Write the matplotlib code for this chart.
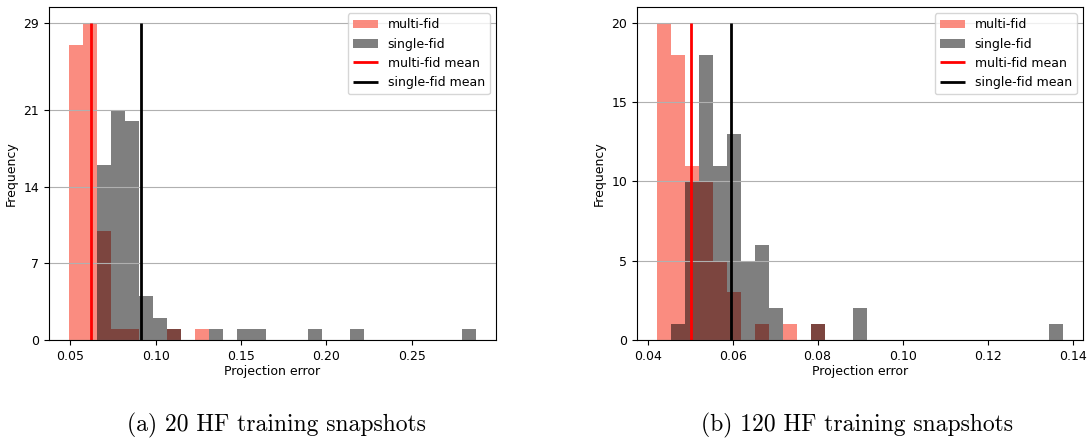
import numpy as np
import matplotlib
matplotlib.use("Agg")
import matplotlib.pyplot as plt

# bin ranges (29 bins between min and max error)
edges_a_lo, edges_a_hi = 0.0494, 0.2875
edges_b_lo, edges_b_hi = 0.04226, 0.1377
n_bins = 29

# counts per bin, 20 HF training snapshots
multi_a = [27, 29, 10, 1, 1, 0, 0, 1, 0, 1, 0, 0, 0, 0, 0,
           0, 0, 0, 0, 0, 0, 0, 0, 0, 0, 0, 0, 0, 0]
single_a = [0, 0, 16, 21, 20, 4, 2, 1, 0, 0, 1, 0, 1, 1, 0,
            0, 0, 1, 0, 0, 1, 0, 0, 0, 0, 0, 0, 0, 1]
mean_multi_a = 0.0623
mean_single_a = 0.0911

# counts per bin, 120 HF training snapshots
multi_b = [20, 18, 11, 10, 5, 3, 0, 1, 0, 1, 0, 1, 0, 0, 0,
           0, 0, 0, 0, 0, 0, 0, 0, 0, 0, 0, 0, 0, 0]
single_b = [0, 1, 10, 18, 11, 13, 5, 6, 2, 0, 0, 1, 0, 0, 2,
            0, 0, 0, 0, 0, 0, 0, 0, 0, 0, 0, 0, 0, 1]
mean_multi_b = 0.0502
mean_single_b = 0.0596

captions = ["(a) 20 HF training snapshots", "(b) 120 HF training snapshots"]

fig = plt.figure(figsize=(10.92, 4.42), dpi=100)
ax_a = fig.add_axes([0.0449, 0.2308, 0.4093, 0.7532])
ax_b = fig.add_axes([0.5833, 0.2308, 0.4085, 0.7532])

panels = [
    (ax_a, edges_a_lo, edges_a_hi, multi_a, single_a, mean_multi_a, mean_single_a),
    (ax_b, edges_b_lo, edges_b_hi, multi_b, single_b, mean_multi_b, mean_single_b),
]

for ax, lo, hi, mf, sf, mm, sm in panels:
    edges = np.linspace(lo, hi, n_bins + 1)
    left = edges[:-1]
    _, _, p1 = ax.hist(left, bins=edges, weights=mf, color="salmon", alpha=0.9,
                       label="multi-fid")
    _, _, p2 = ax.hist(left, bins=edges, weights=sf, color="black", alpha=0.5,
                       label="single-fid")
    top = max(max(mf), max(sf))
    l1 = ax.vlines(mm, 0, top, color="red", lw=2, label="multi-fid mean")
    l2 = ax.vlines(sm, 0, top, color="black", lw=2, label="single-fid mean")
    # integer ticks, truncated like int()
    ax.set_yticks(np.linspace(0, top, 5).astype(int))
    ax.grid(axis="y", color="#b0b0b0", lw=0.8)
    ax.tick_params(labelsize=9)
    ax.set_xlabel("Projection error", fontsize=9, labelpad=2)
    ax.set_ylabel("Frequency", fontsize=9)
    ax.legend(handles=[p1[0], p2[0], l1, l2], fontsize=9, loc="upper right")

ax_a.set_xticks([0.05, 0.10, 0.15, 0.20, 0.25])
ax_b.set_xticks([0.04, 0.06, 0.08, 0.10, 0.12, 0.14])

fig.text(0.253, 0.038, captions[0], fontfamily="cmr10", fontsize=17,
         ha="center", va="center")
fig.text(0.785, 0.038, captions[1], fontfamily="cmr10", fontsize=17,
         ha="center", va="center")

fig.savefig("out.png", dpi=100)
